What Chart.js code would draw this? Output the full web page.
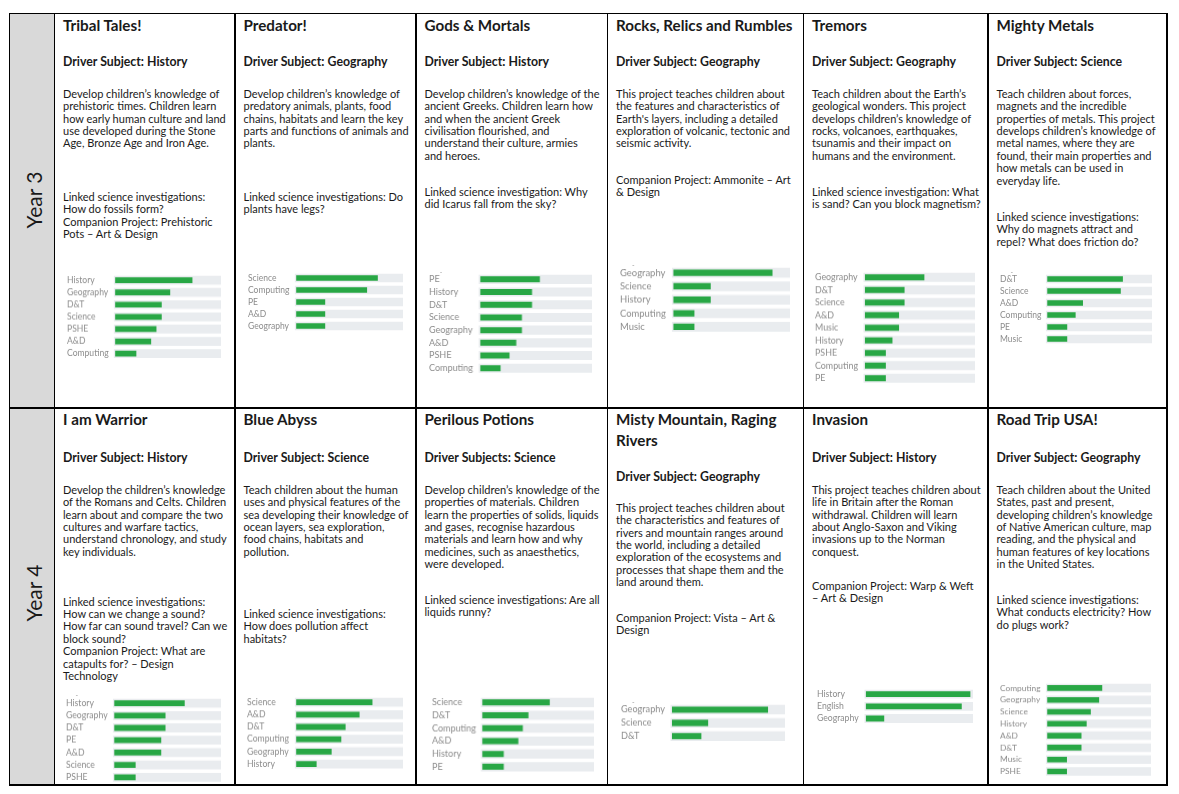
<!DOCTYPE html>
<html>
<head>
<meta charset="utf-8">
<script src="https://cdn.jsdelivr.net/npm/chart.js@4.4.0/dist/chart.umd.min.js"></script>
<style>
html, body { margin: 0; padding: 0; background: #fff; }
body { width: 1179px; height: 794px; position: relative; overflow: hidden; font-family: Lato, sans-serif; color: #1a1a1a; }
.ln { position: absolute; background: #000; }
.yearcol { position: absolute; background: #d9d9d9; }
.t { position: absolute; font-weight: 700; font-size: 15.2px; line-height: 21.5px; white-space: nowrap; }
.d { position: absolute; font-weight: 700; font-size: 12.3px; line-height: 14px; white-space: nowrap; }
.p { position: absolute; font-size: 11px; line-height: 12.4px; white-space: nowrap; }
.yr { position: absolute; font-size: 21px; line-height: 24px; white-space: nowrap; transform: translate(-50%, -50%) rotate(-90deg); }
.dash { position: absolute; font-size: 7px; line-height: 7px; color: #9a9a9a; transform: translate(-50%, -50%); }
.chartbox { position: absolute; }
</style>
</head>
<body>

<div class="yearcol" style="left:9.5px;top:13.5px;width:45px;height:771.5px"></div>

<!-- grid lines -->
<div class="ln" style="left:8.8px;top:12.8px;width:1159px;height:1.4px"></div>
<div class="ln" style="left:8.8px;top:407.3px;width:1159px;height:1.4px"></div>
<div class="ln" style="left:8.8px;top:784.3px;width:1159px;height:1.4px"></div>
<div class="ln" style="left:8.8px;top:12.8px;width:1.4px;height:773px"></div>
<div class="ln" style="left:53.8px;top:12.8px;width:1.4px;height:773px"></div>
<div class="ln" style="left:234.3px;top:12.8px;width:1.4px;height:773px"></div>
<div class="ln" style="left:415.3px;top:12.8px;width:1.4px;height:773px"></div>
<div class="ln" style="left:606.8px;top:12.8px;width:1.4px;height:773px"></div>
<div class="ln" style="left:802.8px;top:12.8px;width:1.4px;height:773px"></div>
<div class="ln" style="left:987.3px;top:12.8px;width:1.4px;height:773px"></div>
<div class="ln" style="left:1166.3px;top:12.8px;width:1.4px;height:773px"></div>

<div class="yr" style="left:34px;top:200px">Year 3</div>
<div class="yr" style="left:34px;top:593px">Year 4</div>

<!-- Year 3 -->
<div class="t" style="left:63px;top:14.5px">Tribal Tales!</div>
<div class="d" style="left:63px;top:55px">Driver Subject: History</div>
<div class="p" style="left:63px;top:87.8px">Develop children’s knowledge of<br>prehistoric times. Children learn<br>how early human culture and land<br>use developed during the Stone<br>Age, Bronze Age and Iron Age.</div>
<div class="p" style="left:63px;top:190.8px">Linked science investigations:<br>How do fossils form?<br>Companion Project: Prehistoric<br>Pots – Art &amp; Design</div>

<div class="t" style="left:243.5px;top:14.5px">Predator!</div>
<div class="d" style="left:243.5px;top:55px">Driver Subject: Geography</div>
<div class="p" style="left:243.5px;top:87.8px">Develop children’s knowledge of<br>predatory animals, plants, food<br>chains, habitats and learn the key<br>parts and functions of animals and<br>plants.</div>
<div class="p" style="left:243.5px;top:190.8px">Linked science investigations: Do<br>plants have legs?</div>

<div class="t" style="left:424.5px;top:14.5px">Gods &amp; Mortals</div>
<div class="d" style="left:424.5px;top:55px">Driver Subject: History</div>
<div class="p" style="left:424.5px;top:87.8px">Develop children’s knowledge of the<br>ancient Greeks. Children learn how<br>and when the ancient Greek<br>civilisation flourished, and<br>understand their culture, armies<br>and heroes.</div>
<div class="p" style="left:424.5px;top:185.8px">Linked science investigation: Why<br>did Icarus fall from the sky?</div>

<div class="t" style="left:616px;top:14.5px">Rocks, Relics and Rumbles</div>
<div class="d" style="left:616px;top:55px">Driver Subject: Geography</div>
<div class="p" style="left:616px;top:87.8px">This project teaches children about<br>the features and characteristics of<br>Earth's layers, including a detailed<br>exploration of volcanic, tectonic and<br>seismic activity.</div>
<div class="p" style="left:616px;top:173.8px">Companion Project: Ammonite – Art<br>&amp; Design</div>

<div class="t" style="left:812px;top:14.5px">Tremors</div>
<div class="d" style="left:812px;top:55px">Driver Subject: Geography</div>
<div class="p" style="left:812px;top:87.8px">Teach children about the Earth’s<br>geological wonders. This project<br>develops children’s knowledge of<br>rocks, volcanoes, earthquakes,<br>tsunamis and their impact on<br>humans and the environment.</div>
<div class="p" style="left:812px;top:185.8px">Linked science investigation: What<br>is sand? Can you block magnetism?</div>

<div class="t" style="left:996.5px;top:14.5px">Mighty Metals</div>
<div class="d" style="left:996.5px;top:55px">Driver Subject: Science</div>
<div class="p" style="left:996.5px;top:87.8px">Teach children about forces,<br>magnets and the incredible<br>properties of metals. This project<br>develops children’s knowledge of<br>metal names, where they are<br>found, their main properties and<br>how metals can be used in<br>everyday life.</div>
<div class="p" style="left:996.5px;top:210.8px">Linked science investigations:<br>Why do magnets attract and<br>repel? What does friction do?</div>

<!-- Year 4 -->
<div class="t" style="left:63px;top:408.5px">I am Warrior</div>
<div class="d" style="left:63px;top:451px">Driver Subject: History</div>
<div class="p" style="left:63px;top:483.8px">Develop the children’s knowledge<br>of the Romans and Celts. Children<br>learn about and compare the two<br>cultures and warfare tactics,<br>understand chronology, and study<br>key individuals.</div>
<div class="p" style="left:63px;top:595.5px">Linked science investigations:<br>How can we change a sound?<br>How far can sound travel? Can we<br>block sound?<br>Companion Project: What are<br>catapults for? – Design<br>Technology</div>

<div class="t" style="left:243.5px;top:408.5px">Blue Abyss</div>
<div class="d" style="left:243.5px;top:451px">Driver Subject: Science</div>
<div class="p" style="left:243.5px;top:483.8px">Teach children about the human<br>uses and physical features of the<br>sea developing their knowledge of<br>ocean layers, sea exploration,<br>food chains, habitats and<br>pollution.</div>
<div class="p" style="left:243.5px;top:607.8px">Linked science investigations:<br>How does pollution affect<br>habitats?</div>

<div class="t" style="left:424.5px;top:408.5px">Perilous Potions</div>
<div class="d" style="left:424.5px;top:451px">Driver Subjects: Science</div>
<div class="p" style="left:424.5px;top:483.8px">Develop children’s knowledge of the<br>properties of materials. Children<br>learn the properties of solids, liquids<br>and gases, recognise hazardous<br>materials and learn how and why<br>medicines, such as anaesthetics,<br>were developed.</div>
<div class="p" style="left:424.5px;top:593.8px">Linked science investigations: Are all<br>liquids runny?</div>

<div class="t" style="left:616px;top:408.5px">Misty Mountain, Raging<br>Rivers</div>
<div class="d" style="left:616px;top:470px">Driver Subject: Geography</div>
<div class="p" style="left:616px;top:501.8px">This project teaches children about<br>the characteristics and features of<br>rivers and mountain ranges around<br>the world, including a detailed<br>exploration of the ecosystems and<br>processes that shape them and the<br>land around them.</div>
<div class="p" style="left:616px;top:611.8px">Companion Project: Vista – Art &amp;<br>Design</div>

<div class="t" style="left:812px;top:408.5px">Invasion</div>
<div class="d" style="left:812px;top:451px">Driver Subject: History</div>
<div class="p" style="left:812px;top:483.8px">This project teaches children about<br>life in Britain after the Roman<br>withdrawal. Children will learn<br>about Anglo-Saxon and Viking<br>invasions up to the Norman<br>conquest.</div>
<div class="p" style="left:812px;top:579.8px">Companion Project: Warp &amp; Weft<br>– Art &amp; Design</div>

<div class="t" style="left:996.5px;top:408.5px">Road Trip USA!</div>
<div class="d" style="left:996.5px;top:451px">Driver Subject: Geography</div>
<div class="p" style="left:996.5px;top:483.8px">Teach children about the United<br>States, past and present,<br>developing children’s knowledge<br>of Native American culture, map<br>reading, and the physical and<br>human features of key locations<br>in the United States.</div>
<div class="p" style="left:996.5px;top:593.8px">Linked science investigations:<br>What conducts electricity? How<br>do plugs work?</div>

<script>
// subject coverage per project (share of the full bar, 0-100)
let tribalSubjects = ["History", "Geography", "D&T", "Science", "PSHE", "A&D", "Computing"];
let tribalValues = [73, 52, 44, 44, 39, 34, 20];

let predatorSubjects = ["Science", "Computing", "PE", "A&D", "Geography"];
let predatorValues = [76, 66, 27, 27, 27];

let godsSubjects = ["PE", "History", "D&T", "Science", "Geography", "A&D", "PSHE", "Computing"];
let godsValues = [53, 46, 46, 37, 37, 32, 26, 18];

let rocksSubjects = ["Geography", "Science", "History", "Computing", "Music"];
let rocksValues = [85, 32, 32, 18, 18];

let tremorsSubjects = ["Geography", "D&T", "Science", "A&D", "Music", "History", "PSHE", "Computing", "PE"];
let tremorsValues = [54, 36, 36, 31, 31, 25, 19, 19, 19];

let metalsSubjects = ["D&T", "Science", "A&D", "Computing", "PE", "Music"];
let metalsValues = [72, 70, 34, 27, 19, 19];

let warriorSubjects = ["History", "Geography", "D&T", "PE", "A&D", "Science", "PSHE"];
let warriorValues = [66, 48, 48, 44, 44, 20, 20];

let abyssSubjects = ["Science", "A&D", "D&T", "Computing", "Geography", "History"];
let abyssValues = [71, 59, 46, 42, 33, 19];

let potionsSubjects = ["Science", "D&T", "Computing", "A&D", "History", "PE"];
let potionsValues = [60, 41, 36, 32, 19, 19];

let mistySubjects = ["Geography", "Science", "D&T"];
let mistyValues = [85, 32, 26];

let invasionSubjects = ["History", "English", "Geography"];
let invasionValues = [97, 89, 17];

let roadTripSubjects = ["Computing", "Geography", "Science", "History", "A&D", "D&T", "Music", "PSHE"];
let roadTripValues = [53, 50, 42, 38, 33, 33, 19, 19];

let trackMax = 100;
let barGreen = "rgb(40, 167, 69)";
let trackGrey = "#e9ecef";

// where each little chart sits on the page
let charts = [
	{ subjects: tribalSubjects, values: tribalValues, lx: 66.7, tx: 113.3, rx: 220.7, y0: 280.3, pitch: 12.1 },
	{ subjects: predatorSubjects, values: predatorValues, lx: 247.7, tx: 294.3, rx: 403.3, y0: 278.2, pitch: 12.0 },
	{ subjects: godsSubjects, values: godsValues, lx: 429, tx: 478.3, rx: 591.7, y0: 279.2, pitch: 12.7, dash: [441, 271.7] },
	{ subjects: rocksSubjects, values: rocksValues, lx: 620, tx: 671.7, rx: 790, y0: 273, pitch: 13.3, dash: [633.3, 265] },
	{ subjects: tremorsSubjects, values: tremorsValues, lx: 815, tx: 863.3, rx: 975, y0: 277.5, pitch: 12.5 },
	{ subjects: metalsSubjects, values: metalsValues, lx: 1000, tx: 1045.7, rx: 1152.3, y0: 279.2, pitch: 12.0, dash: [1011.7, 271.7] },
	{ subjects: warriorSubjects, values: warriorValues, lx: 66, tx: 112.7, rx: 221, y0: 703.3, pitch: 12.2, dash: [76.7, 695] },
	{ subjects: abyssSubjects, values: abyssValues, lx: 246.7, tx: 294.3, rx: 403.3, y0: 702.5, pitch: 12.2 },
	{ subjects: potionsSubjects, values: potionsValues, lx: 432.3, tx: 480.7, rx: 594, y0: 702.8, pitch: 12.7 },
	{ subjects: mistySubjects, values: mistyValues, lx: 621, tx: 670.3, rx: 785, y0: 709.5, pitch: 12.9, dash: [633.3, 701.7] },
	{ subjects: invasionSubjects, values: invasionValues, lx: 816.7, tx: 864, rx: 973.3, y0: 694, pitch: 12.2 },
	{ subjects: roadTripSubjects, values: roadTripValues, lx: 1000, tx: 1045.7, rx: 1151, y0: 688.3, pitch: 11.8 },
];

let renderChart = (c) => {
	let box = document.createElement("div");
	box.className = "chartbox";
	box.style.left = c.lx + "px";
	box.style.top = (c.y0 - c.pitch / 2) + "px";
	box.style.width = (c.rx - c.lx) + "px";
	box.style.height = (c.subjects.length * c.pitch) + "px";
	let canvas = document.createElement("canvas");
	box.appendChild(canvas);
	document.body.appendChild(box);

	if (c.dash) {
		let d = document.createElement("div");
		d.className = "dash";
		d.textContent = "-";
		d.style.left = c.dash[0] + "px";
		d.style.top = c.dash[1] + "px";
		document.body.appendChild(d);
	}

	new Chart(canvas, {
		type: "bar",
		data: {
			labels: c.subjects,
			datasets: [
				{
					data: c.values,
					backgroundColor: barGreen,
					barPercentage: 0.66,
					categoryPercentage: 0.72,
					grouped: false,
				},
				{
					data: c.subjects.map(() => trackMax),
					backgroundColor: trackGrey,
					barPercentage: 1,
					categoryPercentage: 0.72,
					grouped: false,
					base: -1.5,
				},
			],
		},
		options: {
			indexAxis: "y",
			responsive: true,
			maintainAspectRatio: false,
			animation: false,
			events: [],
			layout: { padding: 0 },
			plugins: { legend: { display: false }, tooltip: { enabled: false } },
			scales: {
				x: { display: false, min: -1.5, max: trackMax },
				y: {
					grid: { display: false, drawTicks: false },
					border: { display: false },
					ticks: {
						color: "#8c8c8c",
						font: { family: "Lato", size: c.pitch * 0.71 },
						crossAlign: "far",
						padding: 0,
						autoSkip: false,
					},
					afterFit: (scale) => {
						// fixed label column, and no extra room above/below the rows
						scale.width = c.tx - c.lx;
						scale.paddingTop = 0;
						scale.paddingBottom = 0;
					},
				},
			},
		},
	});
};
charts.forEach(renderChart);
</script>
</body>
</html>
